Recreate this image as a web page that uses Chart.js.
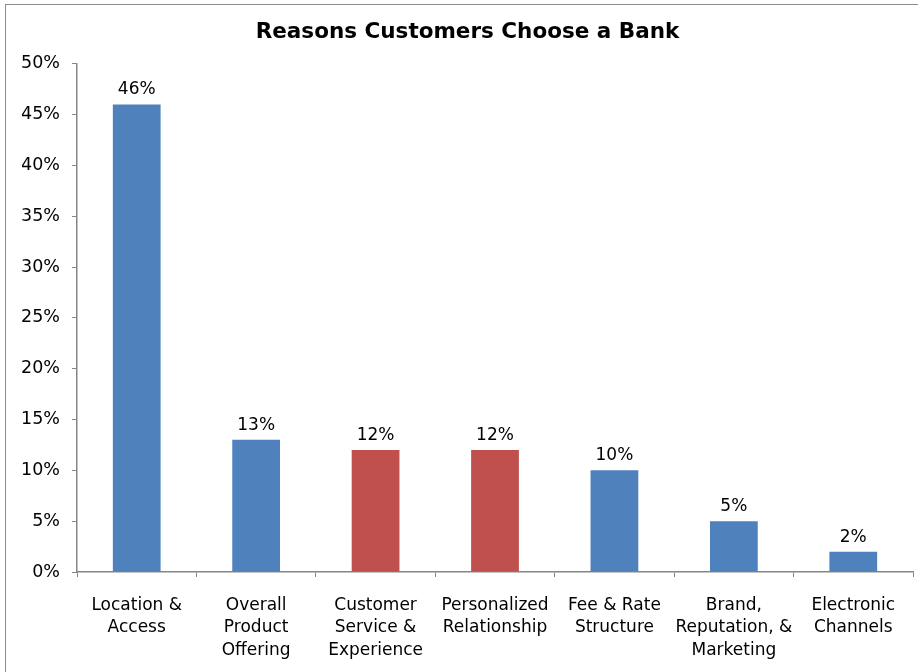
<!DOCTYPE html>
<html>
<head>
<meta charset="utf-8">
<script src="https://cdn.jsdelivr.net/npm/chart.js@4.4.1/dist/chart.umd.min.js"></script>
<style>
  html, body { margin: 0; padding: 0; background: #fff; }
  #wrap { position: relative; width: 918px; height: 672px; overflow: hidden; }
  #frame { position: absolute; left: 5px; top: 4px; width: 930px; height: 700px;
           border-top: 1px solid #8c8c8c; border-left: 1px solid #8c8c8c; }
  #chart { position: absolute; left: 0; top: 0; }
</style>
</head>
<body>
<div id="wrap">
  <div id="frame"></div>
  <canvas id="chart" width="918" height="672"></canvas>
</div>
<script>
// categories and values
const categories = [
  ["Location &", "Access"],
  ["Overall", "Product", "Offering"],
  ["Customer", "Service &", "Experience"],
  ["Personalized", "Relationship"],
  ["Fee & Rate", "Structure"],
  ["Brand,", "Reputation, &", "Marketing"],
  ["Electronic", "Channels"]
];
const shares = [46, 13, 12, 12, 10, 5, 2];
const highlighted = [false, false, true, true, false, false, false];

const BLUE = "#4f81bd";
const RED = "#c0504d";
const AXIS = "#868686";
const FONT = "'DejaVu Sans', sans-serif";

// value labels above each bar
const barLabels = {
  id: "barLabels",
  afterDatasetsDraw(chart) {
    const ctx = chart.ctx;
    const meta = chart.getDatasetMeta(0);
    ctx.save();
    ctx.font = "17px " + FONT;
    ctx.fillStyle = "#000";
    ctx.textAlign = "center";
    ctx.textBaseline = "bottom";
    meta.data.forEach((bar, i) => {
      ctx.fillText(shares[i] + "%", bar.x, bar.y - 6);
    });
    ctx.restore();
  }
};

const chart = new Chart(document.getElementById("chart"), {
  type: "bar",
  data: {
    labels: categories,
    datasets: [{
      data: shares,
      backgroundColor: highlighted.map(h => h ? RED : BLUE),
      categoryPercentage: 1,
      barPercentage: 0.4
    }]
  },
  options: {
    responsive: false,
    animation: false,
    layout: { padding: { left: 22, right: 5, top: 0, bottom: 0 } },
    plugins: {
      legend: { display: false },
      tooltip: { enabled: false },
      title: {
        display: true,
        text: "Reasons Customers Choose a Bank",
        color: "#000",
        font: { family: FONT, size: 21.5, weight: "bold" },
        padding: { top: 20, bottom: 18 }
      }
    },
    scales: {
      x: {
        grid: { display: true, drawOnChartArea: false, drawTicks: true, tickLength: 5, color: AXIS, offset: true },
        border: { display: true, color: AXIS, width: 1.5 },
        ticks: { color: "#000", font: { family: FONT, size: 17, lineHeight: 1.33 }, padding: 17, maxRotation: 0, autoSkip: false },
        afterFit(scale) { scale.height = 100; }
      },
      y: {
        min: 0,
        max: 50,
        grid: { display: true, drawOnChartArea: false, drawTicks: true, tickLength: 5, color: AXIS },
        border: { display: true, color: AXIS, width: 1.5 },
        ticks: { stepSize: 5, color: "#000", font: { family: FONT, size: 17.5 }, padding: 12,
                 callback: v => v + "%" },
        afterFit(scale) { scale.width = 55; }
      }
    }
  },
  plugins: [barLabels]
});
</script>
</body>
</html>
